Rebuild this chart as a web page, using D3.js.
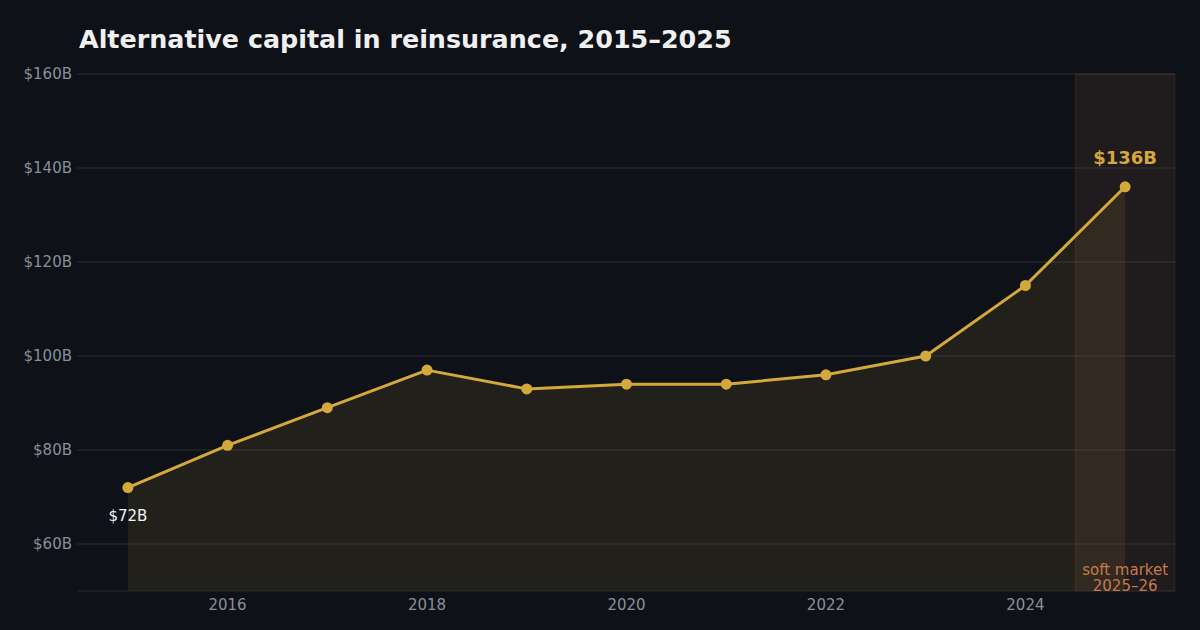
<!DOCTYPE html>
<html>
<head>
<meta charset="utf-8">
<script src="https://cdn.jsdelivr.net/npm/d3@7"></script>
<style>
  body { margin: 0; background: #0e1118; }
  svg { display: block; }
</style>
</head>
<body>
<svg id="chart" width="1200" height="630"></svg>
<script>
// data
const years = [2015, 2016, 2017, 2018, 2019, 2020, 2021, 2022, 2023, 2024, 2025];
const capital = [72, 81, 89, 97, 93, 94, 94, 96, 100, 115, 136];
const yTicks = [60, 80, 100, 120, 140, 160];
const xTicks = [2016, 2018, 2020, 2022, 2024];
const softBand = [2024.5, 2025.5];

const W = 1200, H = 630;
const margin = { top: 74, right: 25, bottom: 39, left: 77 };
const fontFamily = "'DejaVu Sans', sans-serif";
const gold = "#d4a83a";

let svg = d3.select("#chart");
svg.append("rect").attr("width", W).attr("height", H).attr("fill", "#0e1118");

let x = d3.scaleLinear()
  .domain([2014.49, 2025.5])
  .range([margin.left, W - margin.right]);

let y = d3.scaleLinear()
  .domain([50, 160])
  .range([H - margin.bottom, margin.top]);

let data = years.map((yr, i) => ({ year: yr, value: capital[i] }));

// grid lines
svg.append("g")
  .selectAll("line")
  .data(yTicks)
  .enter().append("line")
  .attr("x1", margin.left)
  .attr("x2", W - margin.right)
  .attr("y1", d => y(d))
  .attr("y2", d => y(d))
  .style("stroke", "#2a2d35")
  .style("stroke-width", 1);

// soft market band
svg.append("rect")
  .attr("x", x(softBand[0]))
  .attr("y", margin.top)
  .attr("width", x(softBand[1]) - x(softBand[0]))
  .attr("height", y(50) - margin.top)
  .attr("fill", "rgba(200,120,80,0.10)")
  .attr("stroke", "rgba(200,120,80,0.15)")
  .attr("stroke-width", 1);

// area under line
let area = d3.area()
  .x(d => x(d.year))
  .y0(y(50))
  .y1(d => y(d.value));

svg.append("path")
  .datum(data)
  .attr("d", area)
  .attr("fill", "rgba(212,168,58,0.10)");

// bottom axis line
svg.append("line")
  .attr("x1", margin.left)
  .attr("x2", W - margin.right)
  .attr("y1", y(50))
  .attr("y2", y(50))
  .style("stroke", "#2a2d35")
  .style("stroke-width", 1);

// y tick labels
svg.append("g")
  .selectAll("text")
  .data(yTicks)
  .enter().append("text")
  .attr("x", margin.left - 5)
  .attr("y", d => y(d))
  .attr("dy", "0.35em")
  .attr("text-anchor", "end")
  .text(d => "$" + d + "B")
  .style("fill", "#8b8e97")
  .style("font-family", fontFamily)
  .style("font-size", "15px");

// x tick labels
svg.append("g")
  .selectAll("text")
  .data(xTicks)
  .enter().append("text")
  .attr("x", d => x(d))
  .attr("y", y(50) + 19)
  .attr("text-anchor", "middle")
  .text(d => d)
  .style("fill", "#8b8e97")
  .style("font-family", fontFamily)
  .style("font-size", "15px");

// line
let line = d3.line()
  .x(d => x(d.year))
  .y(d => y(d.value));

svg.append("path")
  .datum(data)
  .attr("d", line)
  .attr("fill", "none")
  .attr("stroke", gold)
  .attr("stroke-width", 3)
  .attr("stroke-linejoin", "round");

svg.append("g")
  .selectAll("circle")
  .data(data)
  .enter().append("circle")
  .attr("cx", d => x(d.year))
  .attr("cy", d => y(d.value))
  .attr("r", 5.5)
  .attr("fill", gold);

// annotations
let first = data[0], last = data[data.length - 1];

svg.append("text")
  .attr("x", x(first.year))
  .attr("y", y(first.value) + 33)
  .attr("text-anchor", "middle")
  .text("$" + first.value + "B")
  .style("fill", "#f2f2f2")
  .style("font-family", fontFamily)
  .style("font-size", "15px");

svg.append("text")
  .attr("x", x(last.year))
  .attr("y", y(last.value) - 23)
  .attr("text-anchor", "middle")
  .text("$" + last.value + "B")
  .style("fill", gold)
  .style("font-family", fontFamily)
  .style("font-weight", "bold")
  .style("font-size", "18px");

let bandMid = (softBand[0] + softBand[1]) / 2;
svg.append("text")
  .attr("x", x(bandMid))
  .attr("y", 575)
  .attr("text-anchor", "middle")
  .text("soft market")
  .style("fill", "#c77a4a")
  .style("font-family", fontFamily)
  .style("font-size", "15px");
svg.append("text")
  .attr("x", x(bandMid))
  .attr("y", 591)
  .attr("text-anchor", "middle")
  .text("2025–26")
  .style("fill", "#c77a4a")
  .style("font-family", fontFamily)
  .style("font-size", "15px");

// title
svg.append("text")
  .attr("x", 79)
  .attr("y", 48)
  .text("Alternative capital in reinsurance, 2015–2025")
  .style("fill", "#f0f0f0")
  .style("font-family", fontFamily)
  .style("font-weight", "bold")
  .style("font-size", "25.4px");
</script>
</body>
</html>
